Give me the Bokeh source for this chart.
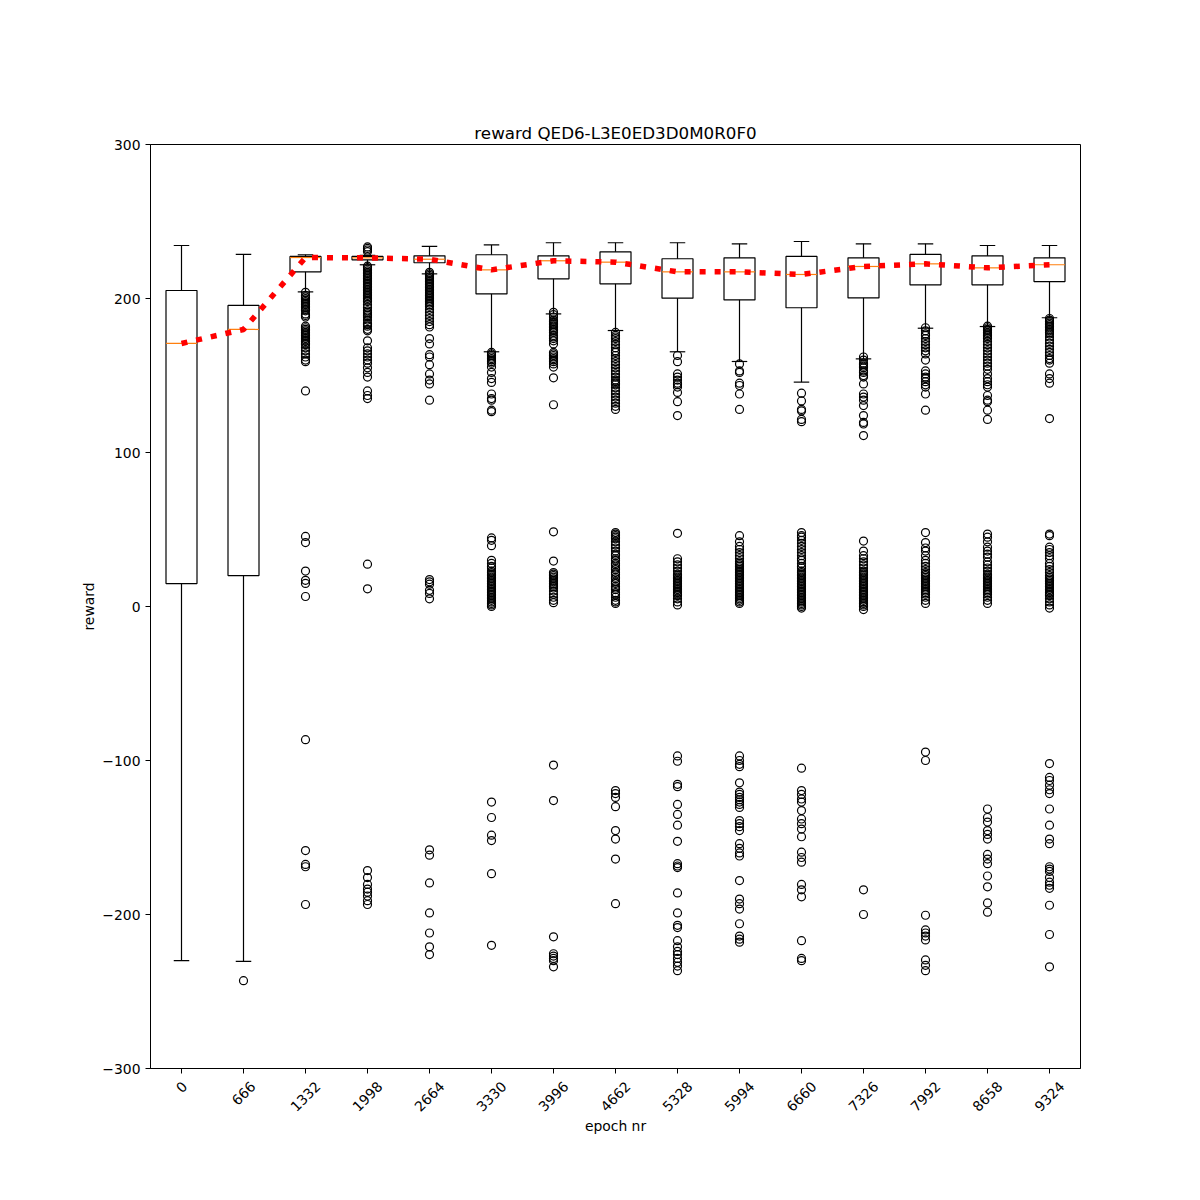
from bokeh.plotting import figure
from bokeh.embed import file_html
from bokeh.resources import INLINE
from bokeh.models import FixedTicker, Range1d, ColumnDataSource
from bokeh.layouts import column
from bokeh.core.properties import value
import math

epochs = ["0", "666", "1332", "1998", "2664", "3330", "3996", "4662",
          "5328", "5994", "6660", "7326", "7992", "8658", "9324"]
whisker_hi = [234.4, 228.6, 228.4, 228.0, 233.8, 234.8, 236.2, 236.2, 236.2, 235.5, 237.0, 235.5, 235.5, 234.4, 234.4]
q3 = [205.2, 195.5, 227.3, 227.3, 227.7, 228.4, 227.7, 230.3, 225.8, 226.4, 227.3, 226.4, 228.6, 227.7, 226.4]
median = [170.8, 179.9, 226.6, 226.4, 225.5, 218.6, 224.5, 223.6, 217.3, 217.3, 215.6, 220.8, 222.5, 219.9, 221.9]
q1 = [14.9, 20.1, 217.3, 225.1, 223.2, 203.0, 212.8, 209.5, 200.2, 199.1, 194.0, 200.4, 208.9, 208.9, 211.0]
whisker_lo = [-229.9, -230.5, 204.3, 221.9, 216.0, 165.4, 190.0, 179.2, 165.4, 159.1, 145.7, 160.8, 180.7, 181.8, 187.5]

outliers = [
    [],
    [-243],
    [204, 202, 201, 200, 199, 198, 197, 196, 195, 194, 193, 192, 190, 189, 188,
     182, 181, 180, 179, 178, 177, 176, 175, 174, 173, 172, 171, 170, 168, 166, 164, 162, 160, 159,
     140, 45.5, 41.5, 23, 17, 15, 6.5, -86.5, -158.5, -167.5, -169, -193.5],
    [233.5, 232.5, 231.5, 230.5,
     221, 220, 219, 218, 217, 216, 215, 214, 213, 212, 211, 210, 209, 208, 207, 206, 205, 204,
     203, 202, 201, 200, 199, 198, 196, 194, 192, 191, 190, 189, 188, 186, 184, 183, 182, 180, 179,
     172.5, 168, 166, 164, 162, 160, 158, 155, 152, 149, 140, 137, 135, 27.5, 11.5,
     -171.5, -176, -180.5, -183.5, -185.5, -188, -191, -193.5],
    [217, 216, 215, 214, 213, 212, 211, 210, 209, 208, 207, 206, 205, 204, 203, 202, 201, 200,
     199, 198, 197, 196, 195, 193, 191, 189, 187, 185, 183, 181.5,
     174, 170.5, 163.5, 162, 157, 151, 147, 144.5, 134, 17.5, 16, 14.5, 10.5, 8.5, 5,
     -158, -161.5, -179.5, -199, -212, -221, -226],
    [165, 164, 163, 162, 161, 160, 159, 158, 155.5, 152, 148, 145.5, 138, 135, 134, 127.5, 126.5,
     44.5, 43, 39.5, 30, 28, 26, 25, 23, 22, 21, 20, 19, 18, 17, 16, 15, 14, 13, 12, 11, 10,
     9, 8, 7, 6, 5, 4, 3, 2, 1, 0, -127, -137, -148.5, -152, -173.5, -220],
    [191, 189.5, 188, 186, 185, 184, 183, 182, 181, 180, 179, 178, 176, 175, 174, 172.5, 170.5,
     165, 164, 163, 162, 161, 160, 159, 157.5, 155.5, 148.5, 131,
     48.5, 29.5, 22, 21, 20, 19, 18, 17, 16, 15, 14, 13, 12, 10, 8, 6, 4, 2.5,
     -103, -126, -214.5, -225.5, -227, -228.5, -230, -234],
    [178, 176, 175, 174, 172, 170, 168, 166, 165, 163, 161, 159, 157, 155, 153, 151, 149, 147,
     146, 145, 144, 142, 140, 138, 136, 134, 132, 130, 128,
     48, 47, 46, 45, 44, 42, 40, 38, 36, 34, 33, 31, 30, 28, 27, 25, 24, 22, 21, 19, 18, 16, 15,
     13, 12, 11, 9, 8, 6, 4, 3, 2, -119.5, -121.5, -124, -130, -145.5, -151, -164, -193],
    [163, 159, 151, 149, 147, 145, 144, 142.5, 139, 133, 124,
     47.5, 31, 29, 27, 25, 23, 21, 20, 19, 18, 17, 16, 15, 14, 13, 12, 11, 10, 9, 8, 7, 5, 3, 1,
     -97, -100.5, -115.5, -117, -128.5, -135, -142, -152.5, -167, -168.5, -169.5, -186, -199,
     -207, -208.5, -217, -221, -224, -226, -228.5, -231, -233.5, -236.5],
    [157.5, 153, 152, 145, 143.5, 138, 128,
     46, 42, 39, 37, 35, 33, 31, 29, 28, 27, 26, 25, 24, 23, 22, 21, 20, 19, 18, 17, 16, 15, 14,
     13, 12, 11, 10, 9, 8, 7, 6, 5, 4, 3, 2,
     -97, -100, -102.5, -104, -114.5, -120.5, -122, -124, -125.5, -127, -128.5, -130.5, -139,
     -141, -143, -145.5, -154, -157, -160, -162, -178, -190, -193, -196.5, -206, -214, -216, -218],
    [138.5, 133.5, 128, 127, 121.5, 120,
     48, 46, 45, 43, 41, 39, 37, 35, 33, 31, 30, 28, 26, 25, 23, 22, 21, 20, 19, 18, 17, 16, 15,
     14, 13, 12, 11, 10, 9, 8, 7, 6, 5, 4, 3, 2, 1, 0, -1,
     -105, -119.5, -122, -125, -127, -132.5, -138, -141, -144.5, -149.5, -159.5, -163, -166,
     -180.5, -184, -188.5, -217, -228.5, -230],
    [162, 160, 158, 157, 156, 155, 153, 152, 150, 149, 144.5, 138, 136, 134, 130.5, 124, 119.5,
     118.5, 111, 42.5, 36, 33, 31, 29, 27, 25, 23, 22, 21, 20, 19, 18, 17, 16, 15, 14, 13, 12,
     11, 10, 9, 8, 7, 6, 5, 4, 3, 2, 1, 0, -2, -184, -200],
    [181, 179, 177, 176, 174, 172, 170, 168, 166, 164, 160, 153, 151, 149, 148, 146, 144, 142.5,
     138, 127.5, 48, 41.5, 38, 36, 33, 30, 28, 26, 24, 22, 21, 20, 19, 18, 17, 16, 15, 14, 13,
     12, 11, 10, 9, 8, 6, 4, 2, -94.5, -100, -200.5, -210, -212, -214, -216.5, -229.5, -233, -236.5],
    [182, 181, 180, 179, 178, 177, 176, 175, 174, 172, 170, 168, 166, 164, 162, 160, 158, 156,
     154, 151, 148, 146, 144, 142.5, 137, 134, 133, 127.5, 121.5,
     47, 45, 42, 38.5, 36, 34, 32, 29, 27, 25, 23, 21, 20, 19, 18, 17, 16, 15, 14, 13, 12, 11,
     10, 9, 8, 6, 4, 2, -131.5, -137, -140, -145.5, -148, -151, -161, -164, -167, -175, -182,
     -192.5, -198.5],
    [187, 186, 185, 184, 183, 182, 181, 180, 179, 178, 177, 175, 173, 171, 169, 167, 165, 163,
     161, 160, 158, 151, 148, 145, 122,
     47, 46, 38.5, 37, 35, 33, 31, 28, 26, 24, 22, 20, 19, 18, 17, 16, 15, 14, 13, 12, 11, 10,
     9, 8, 7, 5, 3, 1, -1, -102, -111, -113, -116, -119, -121.5, -131.5, -142, -151, -154, -169,
     -170.5, -172, -176, -179, -181, -183, -194, -213, -234],
]

y_ticks = [-300, -200, -100, 0, 100, 200, 300]
x_label = "epoch nr"
y_label = "reward"
title = "reward QED6-L3E0ED3D0M0R0F0"

FONT = "DejaVu Sans"
FS = 13.9          # tick / axis label font size in px
DIGIT_W = 0.636 * FS
pos = list(range(1, len(epochs) + 1))
xr = Range1d(0.5, 15.5)
GAP = 9            # px between main frame bottom and the label strip
LABEL_TOP = 10.5   # px below the frame where each rotated label's box starts

p = figure(output_backend="svg", toolbar_location=None,
           frame_width=930, frame_height=924,
           min_border_left=150, min_border_top=144, min_border_right=100, min_border_bottom=GAP,
           x_range=xr, y_range=Range1d(-300, 300), title=title)
p.title.align = "center"
p.title.text_font = FONT
p.title.text_font_size = "16.7px"
p.title.text_font_style = "normal"
p.title.text_color = "black"
p.title.standoff = 4

p.xgrid.visible = False
p.ygrid.visible = False
p.outline_line_color = "black"
p.outline_line_width = 1
p.outline_line_alpha = 1
p.background_fill_color = "white"
p.border_fill_color = "white"

src = ColumnDataSource(dict(
    x=pos,
    left=[x - 0.25 for x in pos], right=[x + 0.25 for x in pos],
    cl=[x - 0.125 for x in pos], cr=[x + 0.125 for x in pos],
    q1=q1, q3=q3, med=median, wlo=whisker_lo, whi=whisker_hi,
))

p.segment(x0="x", x1="x", y0="q3", y1="whi", source=src, line_color="black", line_width=1.2)
p.segment(x0="x", x1="x", y0="q1", y1="wlo", source=src, line_color="black", line_width=1.2)
p.segment(x0="cl", x1="cr", y0="whi", y1="whi", source=src, line_color="black", line_width=1.2)
p.segment(x0="cl", x1="cr", y0="wlo", y1="wlo", source=src, line_color="black", line_width=1.2)
p.quad(left="left", right="right", bottom="q1", top="q3", source=src,
       fill_alpha=0, line_color="black", line_width=1.2)
p.segment(x0="left", x1="right", y0="med", y1="med", source=src, line_color="#ff7f0e", line_width=1.2)

ox, oy = [], []
for x, vals in zip(pos, outliers):
    for v in vals:
        ox.append(x)
        oy.append(v)
p.scatter(ox, oy, marker="circle", size=8, fill_alpha=0, line_color="black", line_width=1.2)

p.line(pos, median, line_color="red", line_width=5.5, line_dash="6 9")

# x axis of the main figure: ticks only (labels are drawn in the strip below)
xa = p.xaxis[0]
xa.ticker = FixedTicker(ticks=pos)
xa.major_label_overrides = {x: "" for x in pos}
xa.major_label_text_font_size = "0px"
xa.major_label_standoff = 0
xa.major_tick_out = 5
xa.major_tick_in = 0
xa.minor_tick_out = 0
xa.minor_tick_in = 0
xa.axis_line_color = "black"
xa.major_tick_line_color = "black"

p.yaxis.ticker = FixedTicker(ticks=y_ticks)
p.yaxis.major_label_overrides = {t: (str(t).replace("-", "\u2212")) for t in y_ticks}
ax = p.yaxis[0]
ax.major_label_text_font = FONT
ax.major_label_text_font_size = f"{FS}px"
ax.major_label_text_color = "black"
ax.axis_label = y_label
ax.axis_label_text_font = FONT
ax.axis_label_text_font_size = f"{FS}px"
ax.axis_label_text_font_style = "normal"
ax.axis_label_text_color = "black"
ax.major_tick_out = 5
ax.major_tick_in = 0
ax.minor_tick_out = 0
ax.minor_tick_in = 0
ax.axis_line_color = "black"
ax.major_tick_line_color = "black"
ax.major_label_standoff = 5
ax.axis_label_standoff = 2

# bottom strip: rotated tick labels (top of rotated box aligned, like matplotlib), x axis label
b = figure(output_backend="svg", toolbar_location=None,
           frame_width=930, frame_height=90,
           min_border_left=150, min_border_top=0, min_border_right=100, min_border_bottom=0,
           x_range=xr, y_range=Range1d(-90 - GAP, -GAP))
b.xaxis.visible = False
b.yaxis.visible = False
b.xgrid.visible = False
b.ygrid.visible = False
b.outline_line_color = None
b.background_fill_color = "white"
b.border_fill_color = "white"

lab_y = [-(LABEL_TOP + (len(t) * DIGIT_W + FS) / (2 * math.sqrt(2))) for t in epochs]
b.text(x=pos, y=lab_y, text=epochs, angle=math.pi / 4,
       text_align="center", text_baseline="middle",
       text_font=value(FONT), text_font_size=f"{FS}px", text_color="black")
b.text(x=[8], y=[-57], text=[x_label], text_align="center", text_baseline="middle",
       text_font=value(FONT), text_font_size=f"{FS}px", text_color="black")

layout = column(p, b, spacing=0)
open("out.html", "w").write(file_html(layout, INLINE))
